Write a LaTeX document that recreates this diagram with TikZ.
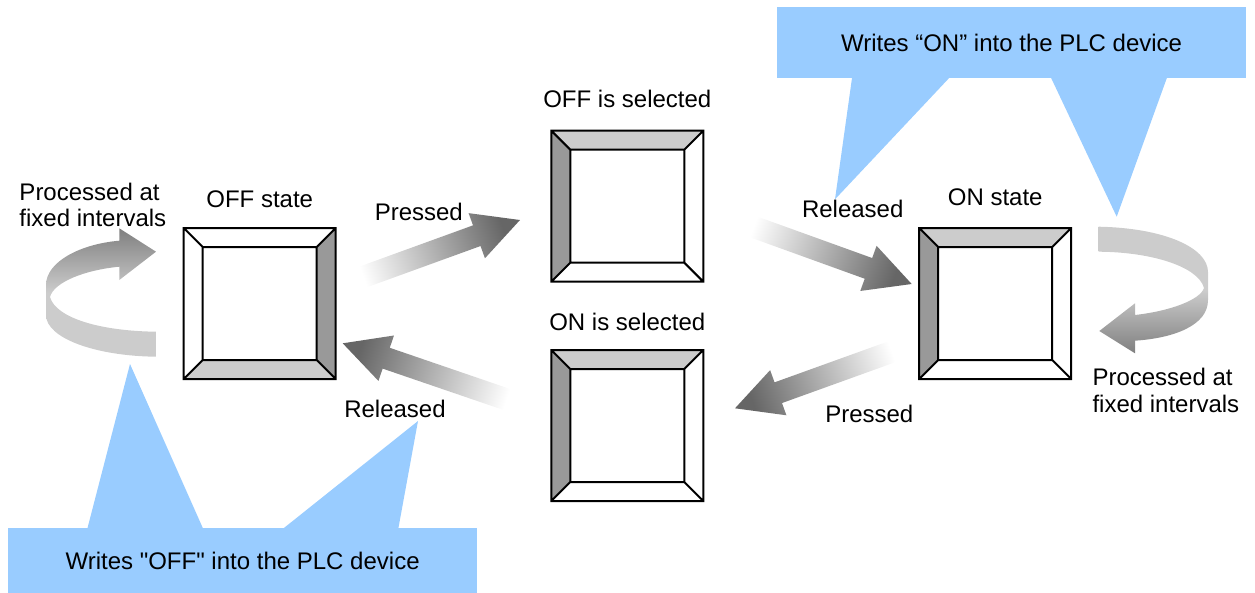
\documentclass[tikz,border=0pt]{standalone}
\usepackage{fontspec}
\setmainfont{Liberation Sans}
\usetikzlibrary{positioning,calc}
\definecolor{NoteBlue}{HTML}{99CCFF}
\definecolor{BevelDark}{HTML}{999999}
\definecolor{BevelLight}{HTML}{CCCCCC}
\tikzset{
  % Button body
  BTN/.style={rectangle,minimum width=152pt,minimum height=151pt,
              inner sep=0pt,outer sep=0pt},
  % Text
  TX/.style={font=\fontsize{24}{26.7}\selectfont,inner sep=0pt},
  % Callout box
  NOTE/.style={TX,rectangle,fill=NoteBlue,outer sep=0pt},
  % Button outline
  bl/.style={draw=black,line width=2pt},
  % Gradient arrows
  flow/.style={top color=white,bottom color=black!60},
  loopdark/.style={top color=black!50,bottom color=black!20,middle color=black!20},
  looplight/.style={top color=black!20,bottom color=black!50,middle color=black!20}
}
% straight double quote (no tex-text mapping)
\newcommand{\strq}{\XeTeXglyph\XeTeXcharglyph"22\relax}
% bevel button: node, fills left/top/right/bottom
\newcommand{\bevelbtn}[5]{%
  \coordinate (#1-a) at ($(#1.north west)+(19,19)$);
  \coordinate (#1-b) at ($(#1.north east)+(-19,19)$);
  \coordinate (#1-c) at ($(#1.south east)+(-19,-19)$);
  \coordinate (#1-d) at ($(#1.south west)+(19,-19)$);
  \fill[#2] (#1.north west) -- (#1-a) -- (#1-d) -- (#1.south west) -- cycle;
  \fill[#3] (#1.north west) -- (#1.north east) -- (#1-b) -- (#1-a) -- cycle;
  \fill[#4] (#1.north east) -- (#1.south east) -- (#1-c) -- (#1-b) -- cycle;
  \fill[#5] (#1.south west) -- (#1.south east) -- (#1-c) -- (#1-d) -- cycle;
  \draw[bl] (#1.north west) rectangle (#1.south east) (#1-a) rectangle (#1-c)
    (#1.north west) -- (#1-a) (#1.north east) -- (#1-b)
    (#1.south east) -- (#1-c) (#1.south west) -- (#1-d);
}
% gradient arrow: tail, tip, shading angle
\newcommand{\grarrow}[3]{%
  \coordinate (#1-h) at ($(#2)!46pt!(#1)$);
  \shade[flow,shading angle=#3]
    ($(#1)!11pt!90:(#2)$) -- ($(#1-h)!11pt!90:(#2)$) -- ($(#1-h)!24pt!90:(#2)$) -- (#2)
    -- ($(#1-h)!24pt!-90:(#2)$) -- ($(#1-h)!11pt!-90:(#2)$) -- ($(#1)!11pt!-90:(#2)$) -- cycle;
}

\begin{document}
\begin{tikzpicture}[x=1pt,y=-1pt]
  \useasboundingbox (0,0) rectangle (1255,592);

  % --- Callouts ---
  \node[NOTE,minimum width=469pt,minimum height=71pt] (onnote) at (1011.6,42.8)
       {Writes “ON” into the PLC device};
  \fill[NoteBlue] ($(onnote.south west)+(75,-1)$) -- (835,199.3) -- ($(onnote.south west)+(172.7,-1)$) -- cycle;
  \fill[NoteBlue] ($(onnote.south west)+(273.7,-1)$) -- (1116.7,216.7) -- ($(onnote.south west)+(390,-1)$) -- cycle;
  \node[NOTE,minimum width=469.3pt,minimum height=66pt] (offnote) at (242.6,561)
       {Writes \strq OFF\strq{} into the PLC device};
  \fill[NoteBlue] ($(offnote.north west)+(79.3,1)$) -- (130,364) -- ($(offnote.north west)+(195.3,1)$) -- cycle;
  \fill[NoteBlue] ($(offnote.north west)+(274.7,1)$) -- (418,421) -- ($(offnote.north west)+(390.3,1)$) -- cycle;

  % --- Buttons ---
  \node[BTN] (offbtn) at (259.7,303.5) {};
  \node[BTN] (offsel) at (627.3,206.2) {};
  \node[BTN] (onsel)  at (627.3,425.5) {};
  \node[BTN] (onbtn)  at (995.2,303.5) {};
  \bevelbtn{offbtn}{white}{white}{BevelDark}{BevelLight}
  \bevelbtn{offsel}{BevelDark}{BevelLight}{white}{white}
  \bevelbtn{onsel}{BevelDark}{BevelLight}{white}{white}
  \bevelbtn{onbtn}{BevelDark}{BevelLight}{white}{white}

  \node[TX,above=20pt of offbtn] (offlbl)   {OFF state};
  \node[TX,above=23pt of offsel] (offsellbl){OFF is selected};
  \node[TX,above=19pt of onsel]  (onsellbl) {ON is selected};
  \node[TX,above=22pt of onbtn]  (onlbl)    {ON state};

  % --- Transitions ---
  \coordinate (t1) at ($(offbtn.east)+(14.3,-21.8)$);
  \coordinate (p1) at ($(offsel.west)+(-31.3,13.8)$);
  \coordinate (t2) at ($(offsel.east)+(36.7,15.8)$);
  \coordinate (p2) at ($(onbtn.west)+(-7.5,-19.5)$);
  \coordinate (t3) at ($(onbtn.west)+(-14.2,43.5)$);
  \coordinate (p3) at ($(onsel.east)+(31.7,-17.2)$);
  \coordinate (t4) at ($(onsel.west)+(-31.3,-21.5)$);
  \coordinate (p4) at ($(offbtn.east)+(7,39.8)$);
  \grarrow{t1}{p1}{110}
  \grarrow{t2}{p2}{70}
  \grarrow{t3}{p3}{-70}
  \grarrow{t4}{p4}{251}

  \node[TX,anchor=base] (pressa) at (418.8,220)   {Pressed};
  \node[TX,anchor=base] (rela)   at (852.7,217.3) {Released};
  \node[TX,anchor=base] (pressb) at (869.3,422.3) {Pressed};
  \node[TX,anchor=base] (relb)   at (395,417.3)   {Released};

  % --- Cyclic processing ---
  \shade[loopdark] (156,356.7) .. controls (95,356) and (46,338) .. (46,315)
    -- (46,285) .. controls (46,262) and (80,244) .. (119.3,240.7)
    -- (119.3,228.3) -- (156,251.7) -- (119.3,280) -- (119.3,266.7)
    .. controls (85,270) and (54,282) .. (50,297)
    .. controls (56,318) and (100,331) .. (156,331.7) -- cycle;
  \shade[looplight] (1098.7,226.7) .. controls (1165,228) and (1208,248) .. (1208,272)
    -- (1208,300) .. controls (1208,325) and (1175,338) .. (1135,340.7)
    -- (1135,353.3) -- (1099.3,331) -- (1135,303.3) -- (1135,315)
    .. controls (1170,311) and (1200,300) .. (1204,288)
    .. controls (1198,266) and (1150,252) .. (1098.7,251.7) -- cycle;
  \node[TX,align=left,anchor=north west] (procl) at (19.3,182.5)
       {Processed at\\fixed intervals};
  \node[TX,align=left,anchor=north west] (procr) at (1092.3,368.2)
       {Processed at\\fixed intervals};
\end{tikzpicture}
\end{document}
